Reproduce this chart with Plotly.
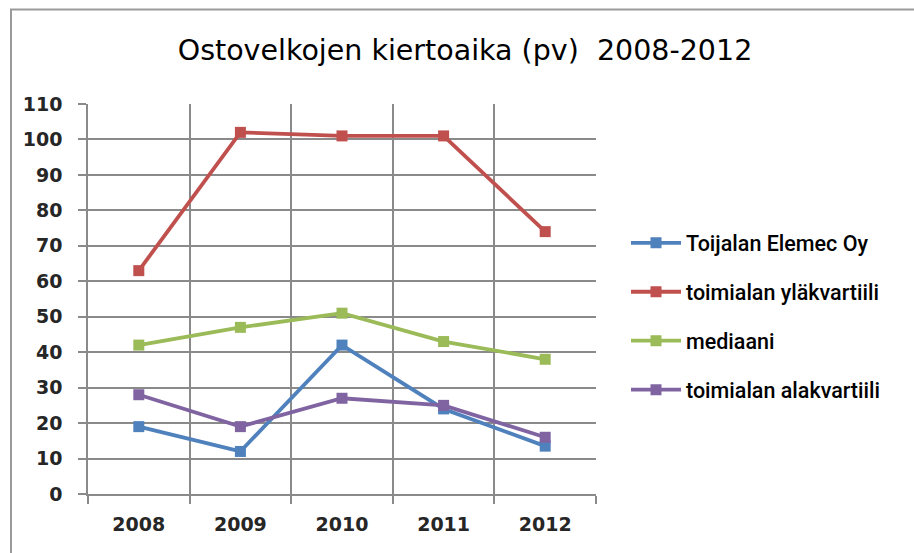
import plotly.graph_objects as go

# Ostovelkojen kiertoaika (päivää) vuosittain
years = ["2008", "2009", "2010", "2011", "2012"]
elemec = [19, 12, 42, 24, 13.5]
ylakvartiili = [63, 102, 101, 101, 74]
mediaani = [42, 47, 51, 43, 38]
alakvartiili = [28, 19, 27, 25, 16]

series = [
    ("Toijalan Elemec Oy", elemec, "#4F81BD"),
    ("toimialan yläkvartiili", ylakvartiili, "#C0504D"),
    ("mediaani", mediaani, "#9BBB59"),
    ("toimialan alakvartiili", alakvartiili, "#8064A2"),
]

fig = go.Figure()
for i, (name, vals, color) in enumerate(series):
    fig.add_trace(go.Scatter(
        x=years, y=vals, name=name, mode="lines+markers",
        line=dict(color=color, width=3.8),
        marker=dict(symbol="square", size=11, color=color),
        legendgroup=f"g{i}",
    ))

# plot area in pixels
L, R, T, B = 88, 596, 103.5, 494
W, H = R - L, B - T

grid = "#8a8a8a"
tickfont = dict(family="DejaVu Sans", size=19, color="#262626", weight=600)
fig.update_layout(
    width=914, height=553,
    margin=dict(l=L, r=914 - R, t=T, b=553 - B),
    paper_bgcolor="white", plot_bgcolor="white",
    title=dict(
        text="Ostovelkojen kiertoaika (pv)  2008-2012",
        x=465 / 914, xanchor="center", y=1 - 50 / 553, yanchor="middle",
        font=dict(family="DejaVu Sans", size=28.5, color="black"),
    ),
    xaxis=dict(
        type="category", range=[-0.5, 4.5], tickson="boundaries",
        showgrid=True, gridcolor=grid, gridwidth=1.5,
        showline=True, linecolor=grid, linewidth=1.5,
        ticks="outside", ticklen=8, tickcolor=grid, tickwidth=1.5,
        ticklabelstandoff=12, tickfont=tickfont, zeroline=False,
    ),
    yaxis=dict(
        range=[0, 110], tickmode="array",
        tickvals=list(range(0, 111, 10)),
        showgrid=True, gridcolor=grid, gridwidth=1.5,
        showline=True, linecolor=grid, linewidth=1.5,
        ticks="outside", ticklen=8, tickcolor=grid, tickwidth=1.5,
        ticklabelstandoff=12, tickfont=tickfont, zeroline=False,
    ),
    legend=dict(
        x=(626 - L) / W, xanchor="left", y=1 - (222 - T) / H, yanchor="top",
        font=dict(family="Roboto", size=21.5, color="black", weight=500),
        tracegroupgap=18, itemwidth=50, bgcolor="rgba(0,0,0,0)",
    ),
    shapes=[dict(
        type="rect", xref="paper", yref="paper",
        x0=(11 - L) / W, x1=(930 - L) / W,
        y0=-(600 - B) / H, y1=1 + (T - 9) / H,
        line=dict(color="#9a9a9a", width=2), layer="below",
    )],
)

fig.write_html("out.html")
